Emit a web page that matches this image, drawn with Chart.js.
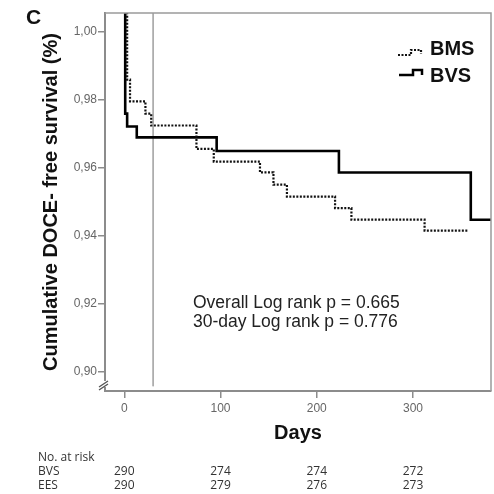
<!DOCTYPE html>
<html>
<head>
<meta charset="utf-8">
<script src="https://cdn.jsdelivr.net/npm/chart.js@4.4.1/dist/chart.umd.min.js"></script>
<style>
  html, body { margin: 0; padding: 0; background: #fff; }
  #wrap { width: 494px; height: 494px; position: relative; }
</style>
</head>
<body>
<div id="wrap"><canvas id="c"></canvas></div>
<script>
// ---- data ----
const bmsDays   = [0, 3, 6, 22, 28, 75, 93, 141, 155, 169, 219, 236, 312, 358];
const bmsSurv   = [1.006, 0.986, 0.9796, 0.976, 0.9725, 0.9656, 0.9619, 0.9587, 0.9551, 0.9516, 0.9482, 0.9448, 0.9416, 0.9416];
const bvsDays   = [0, 1, 3, 13, 96, 223, 360, 381];
const bvsSurv   = [1.006, 0.976, 0.9722, 0.969, 0.965, 0.9587, 0.9448, 0.9448];
const landmarkDay = 30;
const xTicks = [0, 100, 200, 300];
const yTicks = [0.90, 0.92, 0.94, 0.96, 0.98, 1.00];
const riskDays = [0, 100, 200, 300];
const riskBVS  = [290, 274, 274, 272];
const riskEES  = [290, 279, 276, 273];
const seriesLabels = ['BMS', 'BVS'];
const pValueLines = ['Overall Log rank p = 0.665', '30-day Log rank p = 0.776'];

const toPts = (xs, ys) => xs.map((x, i) => ({ x: x, y: ys[i] }));

const FONT = '"Liberation Sans", Arial, Helvetica, sans-serif';
const AXIS = '#8c8c8c';

const decorPlugin = {
  id: 'decor',
  afterDraw(chart) {
    const { ctx, chartArea: a, scales } = chart;
    ctx.save();
    // frame top & right
    ctx.strokeStyle = '#9a9a9a';
    ctx.lineWidth = 1.5;
    ctx.beginPath();
    ctx.moveTo(a.left, a.top);
    ctx.lineTo(a.right, a.top);
    ctx.lineTo(a.right, a.bottom);
    ctx.stroke();
    // axis break marks
    ctx.fillStyle = '#fff';
    ctx.fillRect(a.left - 2, a.bottom - 10, 4, 6);
    ctx.strokeStyle = '#555';
    ctx.lineWidth = 1.4;
    ctx.beginPath();
    ctx.moveTo(a.left - 6, a.bottom - 4); ctx.lineTo(a.left + 3, a.bottom - 10);
    ctx.moveTo(a.left - 6, a.bottom - 1); ctx.lineTo(a.left + 3, a.bottom - 7);
    ctx.stroke();

    // panel letter
    ctx.fillStyle = '#111';
    ctx.font = 'bold 21px ' + FONT;
    ctx.textBaseline = 'alphabetic';
    ctx.textAlign = 'left';
    ctx.fillText('C', 26, 24);

    // legend
    const ds = chart.data.datasets;
    ctx.strokeStyle = ds[0].borderColor;
    ctx.lineWidth = 2.2;
    ctx.setLineDash(ds[0].borderDash);
    ctx.beginPath();
    ctx.moveTo(398, 55); ctx.lineTo(411, 55); ctx.lineTo(411, 50); ctx.lineTo(421, 50); ctx.lineTo(421, 54);
    ctx.stroke();
    ctx.setLineDash([]);
    ctx.strokeStyle = ds[1].borderColor;
    ctx.lineWidth = 2.5;
    ctx.beginPath();
    ctx.moveTo(399, 75); ctx.lineTo(413, 75); ctx.lineTo(413, 70); ctx.lineTo(422, 70); ctx.lineTo(422, 75);
    ctx.stroke();
    ctx.fillStyle = '#111';
    ctx.font = 'bold 20px ' + FONT;
    ctx.textBaseline = 'middle';
    ctx.fillText(ds[0].label, 430, 49);
    ctx.fillText(ds[1].label, 430, 76);

    // p-values
    ctx.fillStyle = '#222';
    ctx.font = '17.5px ' + FONT;
    ctx.textBaseline = 'alphabetic';
    ctx.fillText(pValueLines[0], 193, 308);
    ctx.fillText(pValueLines[1], 193, 327);

    // risk table
    ctx.fillStyle = '#333';
    ctx.font = '12px "Open Sans", sans-serif';
    ctx.textBaseline = 'middle';
    ctx.textAlign = 'left';
    ctx.fillText('No. at risk', 38, 458);
    ctx.fillText('BVS', 38, 472);
    ctx.fillText('EES', 38, 486);
    ctx.textAlign = 'center';
    riskDays.forEach((d, i) => {
      const px = scales.x.getPixelForValue(d);
      ctx.fillText(String(riskBVS[i]), px, 472);
      ctx.fillText(String(riskEES[i]), px, 486);
    });
    ctx.restore();
  }
};

new Chart(document.getElementById('c'), {
  type: 'line',
  data: {
    datasets: [
      {
        label: seriesLabels[0],
        data: toPts(bmsDays, bmsSurv),
        borderColor: '#111',
        borderWidth: 2.2,
        borderDash: [2, 1.5],
        stepped: 'before',
        pointRadius: 0,
        fill: false
      },
      {
        label: seriesLabels[1],
        data: toPts(bvsDays, bvsSurv),
        borderColor: '#000',
        borderWidth: 2.6,
        stepped: 'before',
        pointRadius: 0,
        fill: false
      },
      {
        label: '',
        data: [{ x: landmarkDay, y: 1.0056 }, { x: landmarkDay, y: 0.8958 }],
        borderColor: '#aaa',
        borderWidth: 1,
        pointRadius: 0,
        fill: false
      }
    ]
  },
  options: {
    responsive: true,
    maintainAspectRatio: false,
    animation: false,
    layout: { padding: { top: 13, right: 3, left: 0, bottom: 0 } },
    plugins: { legend: { display: false }, tooltip: { enabled: false } },
    scales: {
      x: {
        type: 'linear',
        min: -20,
        max: 381,
        afterBuildTicks: s => { s.ticks = xTicks.map(v => ({ value: v })); },
        afterFit: s => { s.height = 103; },
        grid: { display: true, drawOnChartArea: false, drawTicks: true, tickLength: 7, color: AXIS, lineWidth: 1.5 },
        border: { display: true, color: AXIS, width: 2 },
        ticks: { color: '#666', font: { family: FONT, size: 12 }, padding: 3, maxRotation: 0, autoSkip: false },
        title: { display: true, text: 'Days', color: '#111', font: { family: FONT, size: 20, weight: 'bold' }, padding: { top: 0, bottom: 49 } }
      },
      y: {
        type: 'linear',
        min: 0.8944,
        max: 1.0056,
        afterBuildTicks: s => { s.ticks = yTicks.map(v => ({ value: v })); },
        afterFit: s => { s.width = 105; },
        grid: { display: true, drawOnChartArea: false, drawTicks: true, tickLength: 7, color: AXIS, lineWidth: 1.5 },
        border: { display: true, color: AXIS, width: 2 },
        ticks: { color: '#666', font: { family: FONT, size: 12 }, padding: 1, autoSkip: false,
                 callback: v => Number(v).toFixed(2).replace('.', ',') },
        title: { display: true, text: 'Cumulative DOCE- free survival (%)', color: '#111', font: { family: FONT, size: 20, weight: 'bold' }, padding: { top: 39, bottom: 0 } }
      }
    }
  },
  plugins: [decorPlugin]
});
</script>
</body>
</html>
